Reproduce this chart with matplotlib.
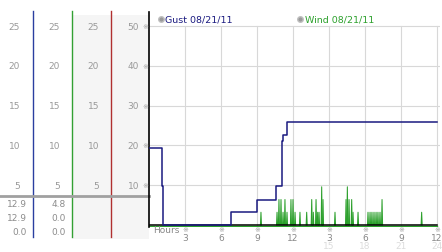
import matplotlib.pyplot as plt
from matplotlib import transforms

# gust (step series, plot units)
gust_hours = [0, 1.08, 1.17, 6.8, 8.97, 10.58, 11.05, 11.1, 11.2, 11.5, 24]
gust_values = [19.3, 9.7, 0, 3.2, 6.4, 9.7, 16.1, 21.0, 22.6, 25.8, 25.8]

# wind spikes (plot units), zero elsewhere
wind_hours = [9.33, 10.67, 10.83, 11.0, 11.17, 11.33, 11.5, 11.83, 12.0, 12.17,
              12.58, 13.14, 13.56, 13.69, 13.92, 14.06, 14.17, 14.39, 14.5,
              15.5, 16.42, 16.53, 16.67, 16.89, 17.0, 17.42,
              18.25, 18.42, 18.58, 18.75, 18.92, 19.08, 19.25, 19.42, 22.72]
wind_values = [3.2, 3.2, 6.4, 6.4, 3.2, 6.4, 3.2, 6.4, 6.4, 3.2,
               3.2, 3.2, 6.4, 3.2, 6.4, 3.2, 3.2, 9.6, 6.4,
               3.2, 6.4, 9.6, 6.4, 6.4, 3.2, 3.2,
               3.2, 3.2, 3.2, 3.2, 3.2, 3.2, 3.2, 6.4, 3.2]

left_ticks = [5, 10, 15, 20, 25]          # left panels (half scale)
right_ticks = [10, 20, 30, 40, 50]        # plot scale
hour_ticks = [3, 6, 9, 12, 15, 18, 21, 24]
hour_labels = ['3', '6', '9', '12', '3', '6', '9', '12']
hour_labels2 = ['', '', '', '', '15', '18', '21', '24']
gust_stats = ['12.9', '12.9', '0.0']
wind_stats = ['4.8', '0.0', '0.0']
legend_names = ['Gust 08/21/11', 'Wind 08/21/11']

W, H = 442, 253
navy = '#1a1a80'
green = '#2ca02c'
mark_font = ['DejaVu Sans', 'Noto Sans CJK JP']
fs = 6.5

fig = plt.figure(figsize=(W / 100, H / 100), dpi=100)
fig.patch.set_facecolor('white')

# background axes in pixel coordinates
bg = fig.add_axes([0, 0, 1, 1])
bg.set_xlim(0, W)
bg.set_ylim(H, 0)
bg.axis('off')

bg.add_patch(plt.Rectangle((73, 16), 38, 224, color='#f5f5f5', lw=0))
bg.add_patch(plt.Rectangle((112, 16), 37, 224, color='#f5f5f5', lw=0))
bg.plot([33, 33], [12, 238], color='#2a3fa0', lw=1)
bg.plot([72, 72], [12, 238], color='#33a033', lw=1)
bg.plot([111, 111], [12, 238], color='#b03030', lw=1)
bg.plot([0, 149], [197, 197], color='#a0a0a0', lw=2)

for i, (g, w) in enumerate(zip(gust_stats, wind_stats)):
    y = 205 + i * 14
    bg.text(27, y, g, ha='right', va='center', fontsize=fs, color='#8c8c8c')
    bg.text(66, y, w, ha='right', va='center', fontsize=fs, color='#8c8c8c')

# legend
bg.plot([161], [20], 'o', ms=4, color='#9a9a9a', mec='#c0c0c0')
bg.text(165, 20, legend_names[0], ha='left', va='center', fontsize=6.8, color=navy)
bg.plot([300], [20], 'o', ms=4, color='#9a9a9a', mec='#c0c0c0')
bg.text(305, 20, legend_names[1], ha='left', va='center', fontsize=6.8, color=green)

# data axes
px_per_unit = 199 / 50
y_bot = -2 / px_per_unit
y_top = 50 + 14 / px_per_unit
ax = fig.add_axes([149 / W, (H - 228) / H, (440 - 149) / W, (228 - 13) / H])
ax.set_xlim(0, 24.25)
ax.set_ylim(y_bot, y_top)
ax.set_facecolor('none')
for s in ['top', 'right']:
    ax.spines[s].set_visible(False)
ax.spines['bottom'].set_visible(False)
ax.spines['left'].set_color('black')
ax.spines['left'].set_linewidth(1.2)
ax.set_xticks([])
ax.set_yticks([])

for v in right_ticks:
    ax.plot([0, 24.25], [v, v], color='#d8d8d8', lw=0.8, zorder=1)
for h in hour_ticks:
    ax.plot([h, h], [0, 50], color='#d8d8d8', lw=0.8, zorder=1)

# wind: each reading as a thin spike on a zero baseline
ax.plot([0, 24], [-0.3, -0.3], color=green, lw=1, zorder=2)
d = 0.045
for h, v in zip(wind_hours, wind_values):
    ax.plot([h - d, h, h + d], [0, v, 0], color=green, lw=0.75, zorder=3)
ax.plot([0, 24], [0.1, 0.1], color='black', lw=1.1, zorder=4)

ax.step(gust_hours, gust_values, where='post', color=navy, lw=1.1, zorder=5)

# left-panel tick labels, placed with the plot's y scale
tr = transforms.blended_transform_factory(bg.transData, ax.transData)
for v in left_ticks:
    for xr in (20, 60, 99):
        ax.text(xr, 2 * v, str(v), transform=tr, ha='right', va='center',
                fontsize=fs, color='#999999', clip_on=False)
for v in right_ticks:
    ax.text(139, v, str(v), transform=tr, ha='right', va='center',
            fontsize=fs, color='#999999', clip_on=False)
    ax.text(145, v, '\u203b', transform=tr, ha='center', va='center',
            fontsize=5, color='#a0a0a0', family=mark_font, clip_on=False)

# hour labels
trx = transforms.blended_transform_factory(ax.transData, bg.transData)
ax.text(166, 231, 'Hours', transform=bg.transData, ha='center', va='center',
        fontsize=fs, color='#888888')
for h, l1, l2 in zip(hour_ticks, hour_labels, hour_labels2):
    ax.text(h, 230, '\u203b', transform=trx, ha='center', va='center',
            fontsize=5, color='#a0a0a0', family=mark_font, clip_on=False)
    ax.text(h, 238.5, l1, transform=trx, ha='center', va='center',
            fontsize=fs, color='#888888', clip_on=False)
    if l2:
        ax.text(h, 246.5, l2, transform=trx, ha='center', va='center',
                fontsize=fs, color='#dcdcdc', clip_on=False)

fig.savefig('out.png', dpi=100)
